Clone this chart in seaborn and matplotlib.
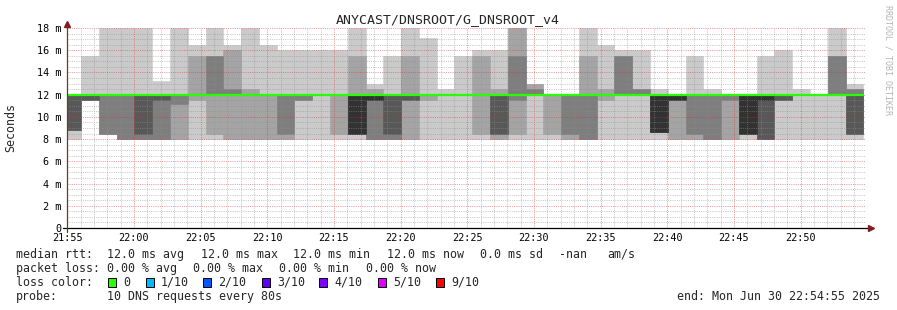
import numpy as np
import pandas as pd
import matplotlib
matplotlib.use("Agg")
import matplotlib.pyplot as plt
from matplotlib.patches import Rectangle
import seaborn as sns

# ---------------- data (ms), 10 sorted DNS replies per 80 s step ----------------
rank1 = [8, 11.5, 8.5, 8, 8, 8, 8, 8, 8, 8, 8, 8, 8, 8, 8, 8, 8, 8, 8, 8, 8, 8, 8,
         8, 8, 8, 8, 8, 8, 8, 8, 8, 8, 8, 8, 8, 8, 8, 8, 8, 8, 8, 8, 8, 8]
rank2 = [8.8, 11.5, 8.5, 8, 8, 8, 8, 11.5, 8.5, 8, 8, 8, 8, 11.5, 12, 8.5, 8.5, 8, 8, 8, 11.5, 12, 12,
         8.5, 8, 8.5, 12, 8.5, 8, 8, 11.5, 12, 12, 8.6, 8, 8, 8, 8, 8.5, 8, 11.5, 12, 12, 12, 8.5]
rank3 = [8.8, 11.5, 8.5, 8, 8, 8, 11.2, 12, 12, 12, 12, 12, 8.5, 11.5, 12, 12, 8.5, 8, 8, 11.5, 12, 12, 12,
         12, 8.5, 11.5, 12, 12, 8.5, 8, 12, 12, 12, 8.6, 11.5, 8.5, 8, 11.5, 8.5, 8, 11.5, 12, 12, 12, 8.5]
rank4 = [8.8, 11.5, 12, 12, 8.5, 11.5, 12, 12, 12, 12, 12, 12, 12, 12, 12, 12, 8.5, 11.5, 8.5, 11.5, 12, 12, 12,
         12, 8.5, 12, 12, 12, 12, 12, 12, 12, 12, 8.6, 11.5, 12, 12, 12, 8.5, 8, 11.5, 12, 12, 12, 8.5]
rank5 = [12, 12, 12, 12, 12, 12, 12, 12, 12, 12, 12, 12, 12, 12, 12, 12, 8.5, 11.5, 12, 12, 12, 12, 12,
         12, 12, 12, 12, 12, 12, 12, 12, 12, 12, 8.6, 11.5, 12, 12, 12, 8.5, 11.5, 12, 12, 12, 12, 12]
rank6 = [12, 12, 12, 12, 12, 12, 12, 12, 12, 12, 12, 12, 12, 12, 12, 12, 12, 12, 12, 12, 12, 12, 12,
         12, 12, 12, 12, 12, 12, 12, 12, 12, 12, 12, 12, 12, 12, 12, 12, 12, 12, 12, 12, 12, 12]
rank7 = [12, 12, 12, 12, 12, 12, 12, 12, 12, 12, 12, 12, 12, 12, 12, 12, 12, 12, 12, 12, 12, 12, 12,
         12, 12, 12, 12, 12, 12, 12, 12, 12, 12, 12, 12, 12, 12, 12, 12, 12, 12, 12, 12, 12, 12]
rank8 = [12, 12, 12, 12, 12, 12, 12, 12, 15.5, 12.5, 12, 12, 12, 12, 12, 12, 12, 12, 12, 12, 12, 12, 12,
         12, 12, 15.5, 12.5, 12, 12, 12, 12, 15.5, 12.5, 12, 12, 12, 12, 12, 12, 12, 12, 12, 12, 15.5, 12.5]
rank9 = [12, 12, 12, 12, 12, 12, 12, 15.5, 15.5, 16, 12.5, 12, 12, 12, 12, 12, 15.5, 12.5, 12, 15.5, 12, 12, 12,
         15.5, 12.5, 18, 13, 12, 12, 15.5, 12.5, 15.5, 12.5, 12, 12, 12, 12, 12, 12, 12, 12, 12, 12, 15.5, 12.5]
rank10 = [12, 15.5, 18, 18, 18, 13.2, 18, 16.5, 18, 16.5, 18, 16.5, 16, 16, 16, 16, 18, 13, 15.5, 18, 17.1, 12.5, 15.5,
          16, 16, 18, 13, 12, 12, 18, 16.5, 16, 16, 12.5, 12, 15.5, 12.5, 12, 12, 15.5, 16, 12.5, 12, 18, 13]
median = [12, 12, 12, 12, 12, 12, 12, 12, 12, 12, 12, 12, 12, 12, 12, 12, 12, 12, 12, 12, 12, 12, 12,
          12, 12, 12, 12, 12, 12, 12, 12, 12, 12, 12, 12, 12, 12, 12, 12, 12, 12, 12, 12, 12, 12]

step_seconds = 80
first_step_end = "2025-06-30 21:56:02"
axis_start = "2025-06-30 21:55:00"
axis_end = "2025-06-30 22:54:55"
tick_labels = ["21:55", "22:00", "22:05", "22:10", "22:15", "22:20", "22:25",
               "22:30", "22:35", "22:40", "22:45", "22:50"]
ytick_values = [0, 2, 4, 6, 8, 10, 12, 14, 16, 18]
ytick_labels = ["0", "2 m", "4 m", "6 m", "8 m", "10 m", "12 m", "14 m", "16 m", "18 m"]

loss_labels = ["0", "1/10", "2/10", "3/10", "4/10", "5/10", "9/10"]
loss_colors = ["#26ff00", "#00b8ff", "#0059ff", "#5e00ff", "#7e00ff", "#dd00ff", "#ff0000"]

title = "ANYCAST/DNSROOT/G_DNSROOT_v4"

# ---------------- build frame ----------------
t0 = pd.Timestamp(axis_start)
ends = pd.date_range(first_step_end, periods=len(median), freq=f"{step_seconds}s")
x_end = ((ends - t0).total_seconds() / 60.0).to_numpy()
bin_w = step_seconds / 60.0
x_left = x_end - bin_w
x_max = (pd.Timestamp(axis_end) - t0).total_seconds() / 60.0

ranks = [rank1, rank2, rank3, rank4, rank5, rank6, rank7, rank8, rank9, rank10]
df = pd.DataFrame({f"r{i+1}": r for i, r in enumerate(ranks)})
df["left"] = x_left
df["end"] = x_end
df["median"] = median

# ---------------- figure ----------------
sns.set_theme(style="white")
plt.rcParams["font.family"] = ["DejaVu Sans Mono"]

W, H = 897, 310
fig = plt.figure(figsize=(W / 100, H / 100), dpi=100)
fig.patch.set_facecolor("white")


def fx(px):
    return px / W


def fy(py):
    return 1 - py / H


ax_l, ax_r, ax_b, ax_t = 67.3, 866.2, 228, 28
ax = fig.add_axes([fx(ax_l), fy(ax_b), (ax_r - ax_l) / W, (ax_b - ax_t) / H])
ax.set_facecolor("white")

smoke = ["#cacaca", "#a4a4a4", "#7e7e7e", "#585858", "#323232"]
for i in range(5):
    lo = df[f"r{i+1}"].to_numpy(dtype=float)
    hi = df[f"r{10-i}"].to_numpy(dtype=float)
    ax.bar(df["left"], hi - lo, bottom=lo, width=bin_w, align="edge",
           color=smoke[i], edgecolor=smoke[i], linewidth=0.4, zorder=1 + i * 0.01)

# median line
mx = np.concatenate([[x_left[0]], x_end])
my = np.concatenate([[median[0]], df["median"].to_numpy(dtype=float)])
sns.lineplot(x=mx, y=my, ax=ax, color="#26ff00", linewidth=1.6,
             drawstyle="steps-pre", estimator=None, sort=False, zorder=6)

ax.set_xlim(0, x_max)
ax.set_ylim(0, 18)
ax.set_xticks(np.arange(0, 56, 5))
ax.set_xticklabels(tick_labels)
ax.set_xticks(np.arange(0, 60, 1), minor=True)
ax.set_yticks(ytick_values)
ax.set_yticklabels(ytick_labels)
ax.set_yticks(np.arange(0, 18.01, 0.5), minor=True)
ax.set_axisbelow(False)
ax.grid(which="minor", color="#8f8f8f", alpha=0.5, linestyle=(0, (1, 1.2)), linewidth=0.72)
ax.grid(which="major", color="#de3030", alpha=0.5, linestyle=(0, (1, 1.2)), linewidth=0.72)
for s in ax.spines.values():
    s.set_visible(False)

ax.tick_params(axis="both", which="both", length=0, labelsize=7.3, colors="black")
ax.tick_params(axis="x", which="major", pad=3.5)
ax.tick_params(axis="y", which="major", pad=4.5)
ax.set_xlabel("")
ax.set_ylabel("")

# axes lines with arrows
ax.plot([-0.006, 1.004], [0, 0], transform=ax.transAxes, color="black",
        lw=0.9, clip_on=False, zorder=7)
ax.plot([1.0055], [0], marker=">", ms=4, color="#7f1f1f", transform=ax.transAxes,
        clip_on=False, zorder=8)
ax.plot([0, 0], [-0.02, 1.012], transform=ax.transAxes, color="#7a3030",
        lw=0.9, clip_on=False, zorder=7)
ax.plot([0], [1.022], marker="^", ms=4, color="#7f1f1f", transform=ax.transAxes,
        clip_on=False, zorder=8)

# titles
fig.text(fx(447.5), fy(19.5), title, ha="center", va="center", fontsize=9.5)
fig.text(fx(10.5), fy(127.5), "Seconds", rotation=90, ha="center", va="center", fontsize=8.4)
fig.text(fx(887.5), fy(60), "RRDTOOL / TOBI OETIKER", rotation=270, ha="center", va="center",
         fontsize=6, color="#b4b4b4")

# legend lines
fs = 8.4
r1y, r2y, r3y, r4y = 254.3, 268.3, 282.3, 296.3
for x, s in [(16, "median rtt:"), (107.3, "12.0 ms avg"), (200.7, "12.0 ms max"),
             (293.3, "12.0 ms min"), (386.7, "12.0 ms now"), (479.5, "0.0 ms sd"),
             (559, "-nan"), (607.7, "am/s")]:
    fig.text(fx(x), fy(r1y), s, ha="left", va="center", fontsize=fs)
for x, s in [(16, "packet loss:"), (107.3, "0.00 % avg"), (193.3, "0.00 % max"),
             (279.3, "0.00 % min"), (365.7, "0.00 % now")]:
    fig.text(fx(x), fy(r2y), s, ha="left", va="center", fontsize=fs)
fig.text(fx(16), fy(r3y), "loss color:", ha="left", va="center", fontsize=fs)
box_x = [108, 145.7, 203.3, 261.7, 319.3, 377.7, 435.7]
for bx, lab, col in zip(box_x, loss_labels, loss_colors):
    fig.patches.append(Rectangle((fx(bx), fy(r3y + 4.5)), 8 / W, 9 / H, transform=fig.transFigure,
                                 facecolor=col, edgecolor="black", linewidth=0.7))
    fig.text(fx(bx + 15.3), fy(r3y), lab, ha="left", va="center", fontsize=fs)
fig.text(fx(16), fy(r4y), "probe:", ha="left", va="center", fontsize=fs)
fig.text(fx(107.3), fy(r4y), "10 DNS requests every 80s", ha="left", va="center", fontsize=fs)
fig.text(fx(880), fy(r4y), "end: Mon Jun 30 22:54:55 2025", ha="right", va="center", fontsize=fs)

fig.savefig("out.png", dpi=100, facecolor="white")
